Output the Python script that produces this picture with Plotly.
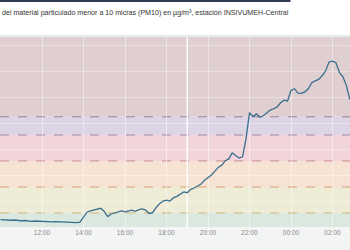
import pandas as pd
import plotly.graph_objects as go

title_text = "del material particulado menor a 10 micras (PM10) en µg/m³, estación INSIVUMEH-Central"

start = pd.Timestamp("2023-01-01 10:00")
pm10 = [28, 27, 28, 26, 27, 25, 24, 25, 23, 22, 23, 22,
        21, 22, 21, 20, 21, 20, 20, 19, 17, 18, 17, 19,
        40, 57, 62, 65, 68, 72, 60, 40, 50, 55, 58, 62,
        58, 62, 65, 60, 67, 70, 65, 52, 55, 75, 90, 100,
        103, 100, 112, 118, 125, 135, 132, 145, 150, 158, 165, 180,
        190, 200, 215, 230, 238, 255, 262, 285, 275, 265, 270, 340,
        440, 425, 435, 422, 428, 438, 450, 455, 462, 478, 488, 485,
        525, 532, 515, 514, 520, 532, 555, 562, 568, 582, 600, 635,
        638, 632, 595, 578, 545, 490]
times = pd.date_range(start, periods=len(pm10), freq="10min")

thresholds = [54, 154, 254, 354, 424]
band_edges = [0, 54, 154, 254, 354, 424, 731]
band_colors = ["#dbe8df", "#eeebd7", "#f7e3d4", "#f1d5da", "#ddd4e5", "#dfcfd0"]
line_colors = ["#cdb77a", "#d9a074", "#c98a8e", "#9c8aa8", "#9a7f86"]

tick_vals = pd.date_range(start, periods=9, freq="2h")
tick_text = ["10:00", "12:00", "14:00", "16:00", "18:00", "20:00", "22:00", "00:00", "02:00"]

marker_time = pd.Timestamp("2023-01-01 19:00")

px_per_hour = 20.75
x0 = start - pd.Timedelta(hours=0.5 / px_per_hour)
x1 = start + pd.Timedelta(hours=349.5 / px_per_hour)

fig = go.Figure()
fig.add_trace(go.Scatter(x=times, y=pm10, mode="lines",
                         line=dict(color="#3a6e8f", width=1.3),
                         hoverinfo="skip"))

shapes = []
for lo, hi, c in zip(band_edges[:-1], band_edges[1:], band_colors):
    shapes.append(dict(type="rect", xref="paper", x0=0, x1=1, yref="y", y0=lo, y1=hi,
                       fillcolor=c, line=dict(width=0), layer="below"))
for t, c in zip(thresholds, line_colors):
    shapes.append(dict(type="line", xref="paper", x0=0, x1=1, yref="y", y0=t, y1=t,
                       line=dict(color=c, width=1, dash="dash"), layer="between"))
shapes.append(dict(type="line", xref="x", x0=marker_time, x1=marker_time, yref="paper", y0=0, y1=1,
                   line=dict(color="rgba(255,255,255,0.95)", width=1.5), layer="between"))
# decorative page elements
shapes.append(dict(type="rect", xref="paper", x0=0, x1=1, yref="paper", y0=-0.13, y1=0,
                   fillcolor="#f3f4f4", line=dict(width=0), layer="below"))
shapes.append(dict(type="rect", xref="paper", x0=0, x1=1, yref="paper", y0=1.0, y1=1.012,
                   fillcolor="#e6edef", line=dict(width=0), layer="below"))
shapes.append(dict(type="rect", xref="paper", x0=0, x1=0.83, yref="paper", y0=1.184, y1=1.2,
                   fillcolor="#2b3a55", line=dict(width=0), layer="above"))

fig.update_layout(
    width=350, height=250, autosize=False,
    margin=dict(l=0, r=0, t=37, b=23, pad=0),
    paper_bgcolor="white", plot_bgcolor="white",
    showlegend=False,
    shapes=shapes,
    annotations=[dict(text=title_text, xref="paper", yref="paper", x=0, y=1.126,
                      xanchor="left", yanchor="middle", showarrow=False,
                      font=dict(family="Liberation Sans, Arial", size=7.1, color="#333333"))],
    xaxis=dict(range=[x0, x1], tickvals=tick_vals, ticktext=tick_text,
               showgrid=True, gridcolor="rgba(255,255,255,0.45)", gridwidth=1,
               zeroline=False, showline=False, ticks="",
               tickfont=dict(family="Liberation Sans, Arial", size=6.5, color="#8a8a8a")),
    yaxis=dict(range=[0, 731], dtick=100, showgrid=True, gridcolor="rgba(255,255,255,0.35)",
               zeroline=False, showline=False, showticklabels=False, ticks=""),
)

fig.write_html("out.html")
